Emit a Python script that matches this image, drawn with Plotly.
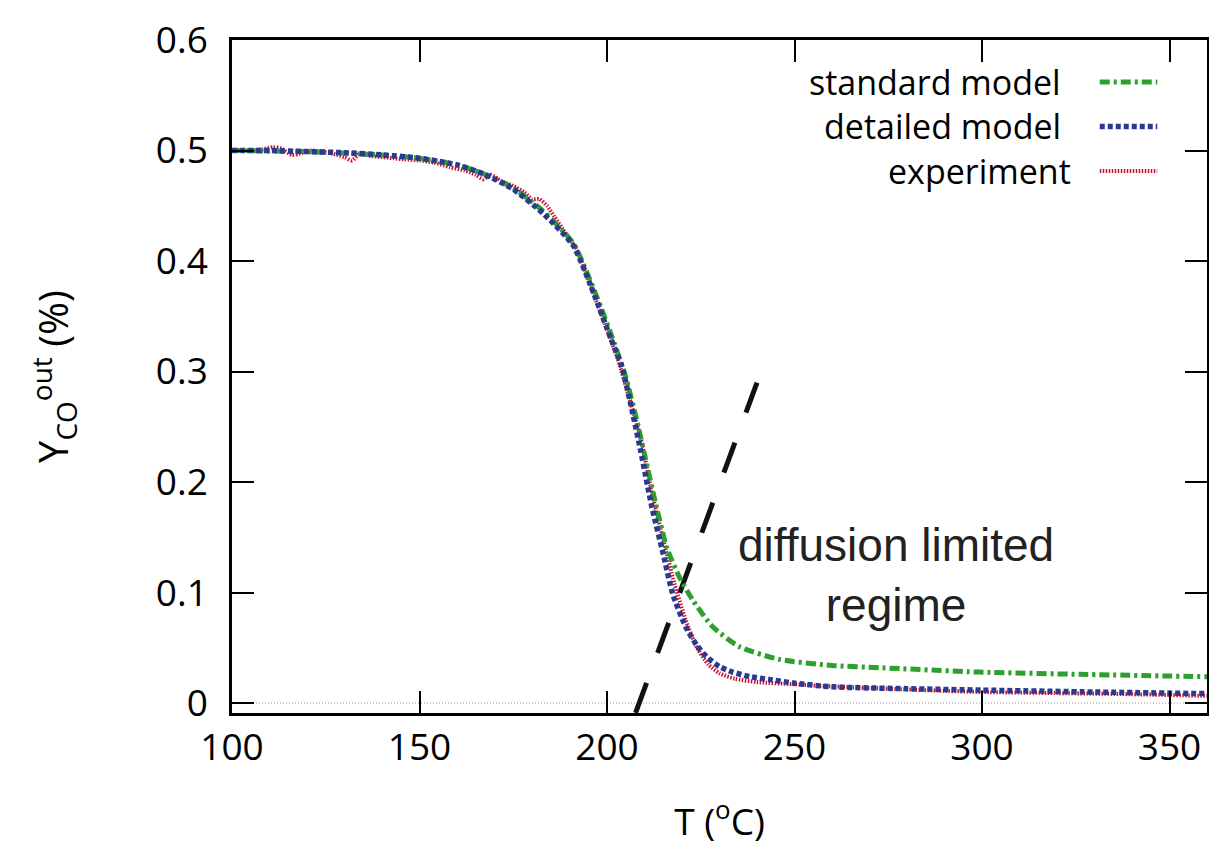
import plotly.graph_objects as go

# ---- data ----
T_detailed = [100, 110, 120, 130, 140, 150, 160, 167, 175, 183, 191, 197, 201, 204, 207, 209,
              212, 215, 217.5, 221, 224, 226.5, 230, 233.5, 238, 244, 250, 260, 280, 300, 330, 360]
Y_detailed = [0.500, 0.500, 0.499, 0.498, 0.496, 0.493, 0.487, 0.479, 0.465, 0.443, 0.414, 0.366,
              0.330, 0.304, 0.260, 0.228, 0.177, 0.135, 0.099, 0.069, 0.052, 0.042, 0.033, 0.028,
              0.024, 0.021, 0.018, 0.0147, 0.013, 0.0117, 0.010, 0.0085]

T_standard = [100, 120, 140, 150, 160, 167, 175, 183, 191, 197, 202, 205, 208, 210, 213, 216,
              219.3, 222.9, 228.2, 235.3, 246, 260, 272.7, 299.3, 326, 360]
Y_standard = [0.500, 0.499, 0.496, 0.493, 0.487, 0.479, 0.466, 0.445, 0.416, 0.370, 0.325, 0.295,
              0.255, 0.225, 0.180, 0.140, 0.114, 0.093, 0.069, 0.051, 0.0395, 0.034, 0.032, 0.028,
              0.026, 0.0238]

T_exp = [100, 104, 108, 111, 113, 116, 118, 121, 124, 127, 130, 132, 134, 137, 140, 143, 146, 150,
         154, 158, 162, 165, 167, 169, 172, 175, 178, 180, 182, 184, 186, 188, 190, 192, 194, 196,
         198, 200, 203, 206, 209, 212, 215, 218, 221, 224, 227, 230, 234, 240, 250, 260, 275, 290,
         300, 320, 340, 360]
Y_exp = [0.500, 0.500, 0.501, 0.503, 0.502, 0.496, 0.497, 0.500, 0.499, 0.497, 0.494, 0.491, 0.497,
         0.495, 0.494, 0.493, 0.492, 0.491, 0.489, 0.485, 0.482, 0.478, 0.474, 0.478, 0.472, 0.468,
         0.462, 0.456, 0.456, 0.450, 0.440, 0.430, 0.420, 0.410, 0.392, 0.374, 0.356, 0.338, 0.310,
         0.275, 0.240, 0.190, 0.148, 0.108, 0.075, 0.050, 0.035, 0.027, 0.022, 0.019, 0.017, 0.015,
         0.013, 0.011, 0.010, 0.009, 0.008, 0.0065]

# guide line (diffusion limited regime)
T_guide = [240, 207.5]
Y_guide = [0.29, -0.01]

x_ticks = [100, 150, 200, 250, 300, 350]
y_ticks = [0, 0.1, 0.2, 0.3, 0.4, 0.5, 0.6]
y_tick_text = ["0", "0.1", "0.2", "0.3", "0.4", "0.5", "0.6"]

names = ["standard model", "detailed model", "experiment"]
colors = ["#2ca02c", "#2b3990", "#c8102e"]
dashes = ["10px,4px,3px,4px", "5px,3px", "1.5px,1.5px"]
widths = [5, 5.5, 4]

FONT_FAMILY = "Open Sans, Noto Sans, sans-serif"
TICK_FONT = dict(family=FONT_FAMILY, size=37, color="black")
XTITLE_FONT = dict(family=FONT_FAMILY, size=37, color="black")
YTITLE_FONT = dict(family=FONT_FAMILY, size=40, color="black")

fig = go.Figure()

fig.add_trace(go.Scatter(x=T_guide, y=Y_guide, mode="lines",
                         line=dict(color="#111111", width=5, dash="32px,32px"),
                         showlegend=False, hoverinfo="skip"))

series = [(T_standard, Y_standard), (T_detailed, Y_detailed), (T_exp, Y_exp)]
for idx in [2, 0, 1]:
    tx, ty = series[idx]
    fig.add_trace(go.Scatter(x=tx, y=ty, mode="lines", name=names[idx],
                             line=dict(color=colors[idx], width=widths[idx], dash=dashes[idx],
                                       shape="spline", smoothing=0.6),
                             showlegend=False))

# dotted zero line
fig.add_shape(type="line", xref="paper", x0=0, x1=1, yref="y", y0=0, y1=0,
              line=dict(color="#999999", width=1, dash="1px,2px"), layer="below")

# legend (gnuplot style: right-justified text, sample on the right)
legend_rows = [0.9376, 0.8715, 0.8053]
text_right = [0.851, 0.851, 0.8615]
for i in range(3):
    fig.add_annotation(xref="paper", yref="paper", x=text_right[i], y=legend_rows[i],
                       text=names[i], showarrow=False, xanchor="right", yanchor="middle",
                       borderpad=0,
                       font=dict(family=FONT_FAMILY, size=34, color="black"))
    fig.add_shape(type="line", xref="paper", yref="paper", x0=0.890, x1=0.949,
                  y0=legend_rows[i], y1=legend_rows[i],
                  line=dict(color=colors[i], width=widths[i], dash=dashes[i]))

fig.add_annotation(x=277, y=0.1156, xref="x", yref="y",
                   text="diffusion limited<br>regime", showarrow=False,
                   font=dict(family="Liberation Sans, Arial, sans-serif", size=46, color="#222222"),
                   align="center")

axis_common = dict(showline=True, linecolor="black", linewidth=2.5, mirror="ticks",
                   ticks="inside", ticklen=22, tickwidth=1.5, tickcolor="black",
                   showgrid=False, zeroline=False, tickfont=TICK_FONT)

fig.update_xaxes(range=[100, 360], tickvals=x_ticks, ticktext=[str(v) for v in x_ticks],
                 title=dict(text="T (<sup>o</sup>C)", font=XTITLE_FONT, standoff=42),
                 ticklabelstandoff=0, **axis_common)
fig.update_yaxes(range=[-0.009, 0.6], tickvals=y_ticks, ticktext=y_tick_text,
                 title=dict(text="Y<sub>CO</sub><sup>out</sup> (%)", font=YTITLE_FONT, standoff=75),
                 ticklabelstandoff=14, **axis_common)

fig.update_layout(width=1209, height=846, plot_bgcolor="white", paper_bgcolor="white",
                  margin=dict(l=232, r=2, t=40, b=133, autoexpand=False), showlegend=False)

fig.write_html("out.html", config={"displayModeBar": False},
               post_script="document.body.style.margin='0px';")
